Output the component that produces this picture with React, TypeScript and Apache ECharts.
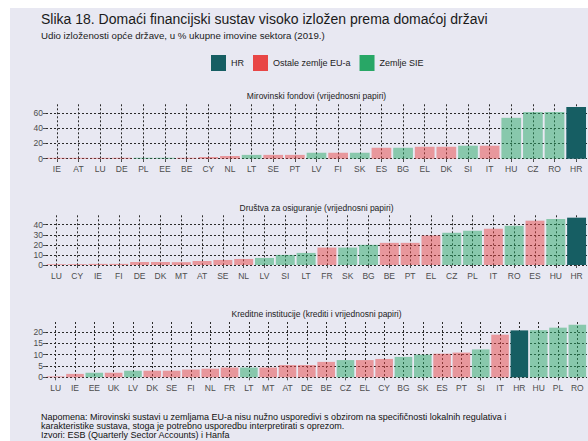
import React, { useEffect, useRef } from "react";
import * as echarts from "echarts";

// ---- data ----
const pensionCountries = ["IE","AT","LU","DE","PL","EE","BE","CY","NL","LT","SE","PT","LV","FI","SK","ES","BG","EL","DK","SI","IT","HU","CZ","RO","HR"];
const pensionValues = [1.1,1.1,1.1,1.2,1.2,1.2,1.2,2.2,3.5,5,5,5,7.8,7.8,7.8,14.3,14.3,15.6,15.6,17,17,53.5,61,61,67.8];

const insuranceCountries = ["LU","CY","IE","FI","DE","DK","MT","AT","SE","NL","LV","SI","LT","FR","SK","BG","BE","PT","EL","CZ","PL","IT","RO","ES","HU","HR"];
const insuranceValues = [0.8,0.8,1.1,1.1,3,3,2.8,4,5,6,7,10,12,17.3,17.3,20,22,22,29.3,32,34,36,39,44,45.7,47];

const creditCountries = ["LU","IE","EE","UK","LV","DK","SE","FI","NL","FR","LT","MT","AT","DE","BE","CZ","EL","CY","BG","SK","ES","PT","SI","IT","HR","HU","PL","RO"];
const creditValues = [0.4,1.5,2,2,2.9,2.9,2.9,3.4,3.8,4.3,4.3,4.3,5.4,5.4,6.8,7.6,7.6,8.1,9,10,10.4,10.9,12.3,18.8,20.7,20.8,21.9,23.2];

const homeCountry = "HR";
const sieCountries = ["BG","CZ","EE","HU","LT","LV","PL","RO","SI","SK"];
const legendNames = ["HR", "Ostale zemlje EU-a", "Zemlje SIE"];

const panelTitles = [
  "Mirovinski fondovi (vrijednosni papiri)",
  "Društva za osiguranje (vrijednosni papiri)",
  "Kreditne institucije (krediti i vrijednosni papiri)",
];
const yIntervals = [20, 10, 5];

const mainTitle = "Slika 18. Domaći financijski sustav visoko izložen prema domaćoj državi";
const subTitle = "Udio izloženosti opće države, u % ukupne imovine sektora (2019.)";
const noteLines = [
  "Napomena: Mirovinski sustavi u zemljama EU-a nisu nužno usporedivi s obzirom na specifičnosti lokalnih regulativa i",
  "karakteristike sustava, stoga je potrebno usporedbu interpretirati s oprezom.",
  "Izvori: ESB (Quarterly Sector Accounts) i Hanfa",
];

// ---- styling / layout (div-relative, div placed at 10,8) ----
const COLORS = ["#165e63", "#e84646", "#28a766"];
const FONT = "Liberation Sans, Arial, sans-serif";
const OX = 10;
const OY = 8;
const GRID_LEFT = 46 - OX;
const GRID_RIGHT = 1;
const panelLayout = [
  { top: 104.3, zero: 158.7, linesBottom: 162, max: 71.2, titleY: 95.7 },
  { top: 215.3, zero: 265, linesBottom: 267.4, max: 49.35, titleY: 207.5 },
  { top: 322, zero: 377.3, linesBottom: 379.9, max: 24.4, titleY: 314 },
];

function groupOf(c: string) {
  if (c === homeCountry) return 0;
  if (sieCountries.includes(c)) return 2;
  return 1;
}

export default function App() {
  const ref = useRef<HTMLDivElement>(null);
  useEffect(() => {
    if (!ref.current) return;
    const chart = echarts.init(ref.current, undefined, { renderer: "svg" });
    const panels = [
      { cats: pensionCountries, vals: pensionValues },
      { cats: insuranceCountries, vals: insuranceValues },
      { cats: creditCountries, vals: creditValues },
    ];
    const dotted = { color: "#2a2a2a", width: 1, type: [2, 2] as number[] };
    const grid: any[] = [];
    const xAxis: any[] = [];
    const yAxis: any[] = [];
    const series: any[] = [];
    const graphics: any[] = [];

    panels.forEach((p, i) => {
      const L = panelLayout[i];
      grid.push({
        left: GRID_LEFT,
        right: GRID_RIGHT,
        top: L.top - OY,
        height: L.zero - L.top,
        containLabel: false,
      });
      xAxis.push({
        type: "category",
        gridIndex: i,
        data: p.cats,
        axisLine: { show: false },
        axisTick: { show: true, alignWithLabel: true, length: 3, lineStyle: { color: "#555" } },
        axisLabel: { color: "#4d4d4d", fontSize: 8.5, fontFamily: FONT, margin: 6, interval: 0 },
        splitLine: { show: false },
      });
      yAxis.push({
        type: "value",
        gridIndex: i,
        min: 0,
        max: L.max,
        interval: yIntervals[i],
        axisLine: { show: false },
        axisTick: { show: true, length: 3, lineStyle: { color: "#555" } },
        axisLabel: { color: "#4d4d4d", fontSize: 8.5, fontFamily: FONT, margin: 3, showMaxLabel: false },
        splitLine: { show: true, showMaxLine: false, lineStyle: dotted },
      });
      [0, 1, 2].forEach((g) => {
        series.push({
          type: "bar",
          name: legendNames[g],
          xAxisIndex: i,
          yAxisIndex: i,
          stack: "s" + i,
          barCategoryGap: "9%",
          itemStyle: { color: COLORS[g] },
          data: p.vals.map((v, k) =>
            groupOf(p.cats[k]) === g ? { value: v, itemStyle: { opacity: g === 0 ? 1 : 0.5 } } : "-"
          ),
        });
      });
      graphics.push({
        type: "text",
        x: (46 + 587) / 2 - OX,
        y: L.titleY - OY,
        style: {
          text: panelTitles[i],
          fontSize: 8.5,
          fontFamily: FONT,
          fill: "#222",
          align: "center",
          verticalAlign: "middle",
        },
      });
    });

    panels.forEach((p, i) => {
      const L = panelLayout[i];
      const n = p.cats.length;
      grid.push({
        left: GRID_LEFT,
        right: GRID_RIGHT,
        top: L.top - OY,
        height: L.linesBottom - L.top,
      });
      xAxis.push({
        type: "category",
        gridIndex: 3 + i,
        boundaryGap: false,
        data: Array.from({ length: 2 * n + 1 }, () => ""),
        axisLine: { show: false },
        axisTick: { show: false },
        axisLabel: { show: false },
        splitLine: { show: true, interval: (idx: number) => idx % 2 === 1, lineStyle: dotted },
      });
      yAxis.push({ type: "value", gridIndex: 3 + i, show: false, min: 0, max: 1, splitLine: { show: false } });
    });

    noteLines.forEach((t, k) => {
      graphics.push({
        type: "text",
        x: 41 - OX,
        y: 416.5 + k * 9 - OY,
        style: { text: t, fontSize: 9, fontFamily: FONT, fill: "#111", verticalAlign: "middle" },
      });
    });

    chart.setOption({
      animation: false,
      title: [
        {
          text: mainTitle,
          left: 41 - OX,
          top: 12 - OY,
          padding: 0,
          textStyle: { fontSize: 14, fontWeight: "normal", color: "#1a1a1a", fontFamily: FONT },
        },
        {
          text: subTitle,
          left: 41 - OX,
          top: 30 - OY,
          padding: 0,
          textStyle: { fontSize: 9.7, fontWeight: "normal", color: "#1a1a1a", fontFamily: FONT },
        },
      ],
      legend: {
        data: legendNames,
        left: 211 - OX,
        top: 55 - OY,
        padding: 0,
        icon: "rect",
        itemWidth: 15,
        itemHeight: 16,
        itemGap: 9,
        textStyle: { fontSize: 9, fontFamily: FONT, color: "#222" },
        selectedMode: false,
      },
      grid,
      xAxis,
      yAxis,
      series,
      graphic: { elements: graphics },
    });
    return () => chart.dispose();
  }, []);
  return (
    <div
      ref={ref}
      style={{ position: "absolute", left: OX, top: OY, width: 588 - OX, height: 441 - OY, background: "#e8e8f2" }}
    />
  );
}
